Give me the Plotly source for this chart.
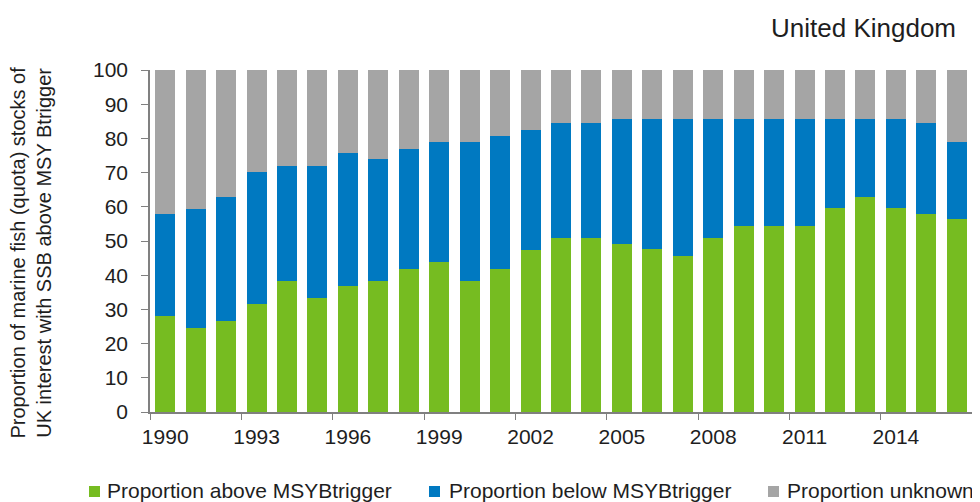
import plotly.graph_objects as go

years = list(range(1990, 2017))
above = [28, 24.5, 26.5, 31.7, 38.3, 33.3, 36.8, 38.3, 41.9, 43.9, 38.3, 41.9, 47.5,
         50.8, 50.8, 49.2, 47.6, 45.5, 50.8, 54.3, 54.3, 54.3, 59.6, 63, 59.6, 58, 56.3]
known_total = [58, 59.5, 63, 70.2, 72, 72, 75.6, 73.9, 77, 79, 79, 80.6, 82.5,
               84.4, 84.4, 85.8, 85.8, 85.8, 85.8, 85.8, 85.8, 85.8, 85.8, 85.8, 85.8, 84.4, 79]
below = [round(t - a, 2) for t, a in zip(known_total, above)]
unknown = [round(100 - t, 2) for t in known_total]
label_years = [1990, 1993, 1996, 1999, 2002, 2005, 2008, 2011, 2014]
series_names = ["Proportion above MSYBtrigger", "Proportion below MSYBtrigger", "Proportion unknown"]
series_colors = ["#76BC21", "#0079C1", "#A5A5A5"]

font_family = "Liberation Sans, Arial, sans-serif"
txt = "#1e1e1e"

# page has an 8px body margin -> figure sized to fit the window
OFF = 8
W, H = 972, 494
ml, mr, mt, mb = 142, 8, 62, 90
plot_w = W - ml - mr
plot_h = H - mt - mb


def px_x(X):
    return (X - OFF - ml) / plot_w


def px_y(Y):
    return 1 - (Y - OFF - mt) / plot_h


fig = go.Figure()
for vals, name, col in zip([above, below, unknown], series_names, series_colors):
    fig.add_bar(x=years, y=vals, name=name, marker_color=col, marker_line_width=0)

annotations = [
    dict(text="United Kingdom", xref="paper", yref="paper",
         x=px_x(958), y=px_y(28), xanchor="right", yanchor="middle", showarrow=False,
         font=dict(size=26, color=txt)),
    dict(text="Proportion of marine fish (quota) stocks of<br>UK interest with SSB above MSY Btrigger",
         xref="paper", yref="paper", x=px_x(30.5), y=px_y(253), textangle=-90,
         xanchor="center", yanchor="middle", showarrow=False,
         font=dict(size=20, color=txt)),
]
shapes = []
legend_marker_x = [89, 429, 768]
legend_text_x = [105, 447, 785]
for name, col, mx, tx in zip(series_names, series_colors, legend_marker_x, legend_text_x):
    shapes.append(dict(type="rect", xref="paper", yref="paper",
                       x0=px_x(mx), x1=px_x(mx + 11), y0=px_y(497), y1=px_y(486),
                       fillcolor=col, line=dict(width=0)))
    annotations.append(dict(text=name, xref="paper", yref="paper", x=px_x(tx), y=px_y(491),
                            xanchor="left", yanchor="middle", showarrow=False,
                            font=dict(size=21, color=txt)))

fig.update_layout(
    barmode="stack",
    bargap=0.34,
    width=W, height=H,
    margin=dict(l=ml, r=mr, t=mt, b=mb, autoexpand=False),
    paper_bgcolor="white", plot_bgcolor="white",
    font=dict(family=font_family, color=txt),
    showlegend=False,
    annotations=annotations,
    shapes=shapes,
)

fig.update_xaxes(
    range=[1989.5, 2016.5],
    tickvals=label_years,
    ticktext=[str(y) for y in label_years],
    ticks="", showgrid=False, zeroline=False,
    showline=True, linecolor="#808080", linewidth=1.5,
    tickfont=dict(size=21, color=txt),
    ticklabelstandoff=5,
    minor=dict(tick0=1989.5, dtick=3, ticks="outside", ticklen=6, tickcolor="#808080",
               showgrid=False),
)
fig.update_yaxes(
    range=[0, 100], tickvals=list(range(0, 101, 10)),
    ticks="outside", ticklen=7, tickcolor="#808080",
    showgrid=False, zeroline=False,
    showline=True, linecolor="#808080", linewidth=1.5,
    tickfont=dict(size=21, color=txt),
    ticklabelstandoff=9,
)

fig.write_html("out.html")
